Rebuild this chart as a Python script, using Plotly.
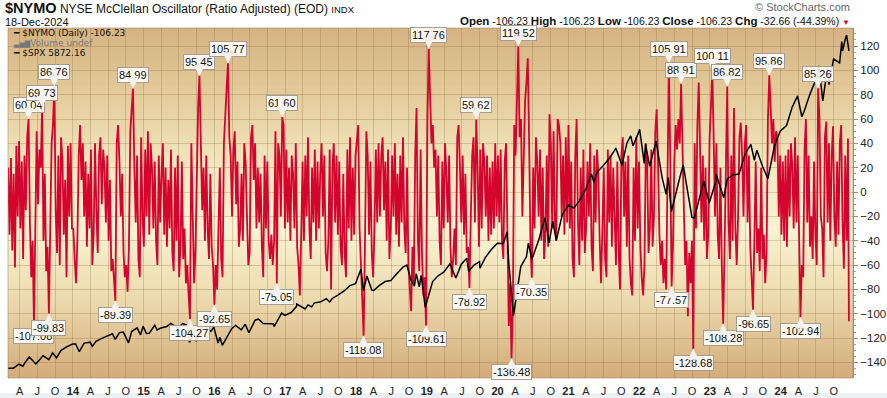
import plotly.graph_objects as go
import pandas as pd

# ---------------- DATA ----------------
# $NYMO weekly readings, one list per year (first Friday of each year onward)
nymo_2013 = [20, -35, 28, -48, 15, -62, 38, -20, 42, -30,
             25, -55, 30, -15, 45, 60.04, -25, -70, -40, -107.08,
             -30, 50, -10, 35, 20, 69.73, -40, 15, -65, -45,
             -99.83, -20, 40, 55, 86.76, -15, -50, 30, -60, 45,
             25, -35, 10, -70, 38, -20, 40, -30]
nymo_2014 = [-30, -55, -75, -40, 30, 55, 10, 40, -20, 25,
             -45, 15, -30, 35, -60, -35, 40, -15, -50, 30,
             45, -10, 35, 20, -25, 30, -40, 10, -65, -55,
             -75, -89.39, 40, 55, 25, -20, 15, -50, -70, -60,
             -82, -45, 50, 65, 84.99, 20, -25, 30, -55, -70,
             45, -20]
nymo_2015 = [-45, 35, -20, 50, -35, 40, 20, -30, 25, -40,
             -60, 30, -25, 15, 40, -35, 20, -45, 10, -30,
             35, -50, -65, 20, -40, 30, -70, -45, 25, -55,
             -30, -75, -60, -85, -104.27, 40, -20, -75, -50, 30,
             70, 95.45, 35, -15, 20, -40, 30, -30, -55, 15,
             -45, -60]
nymo_2016 = [-92.65, -60, -80, -40, 20, -55, -70, 40, 70, 85,
             105.77, 45, 30, -20, 35, 50, -10, 25, -45, -30,
             15, -40, 40, 25, -20, -60, -50, 45, 55, 10,
             40, -30, 20, -25, 15, -45, -70, 30, -30, 25,
             -40, -55, -35, -60, -40, 50, -75.05, 40, 30, -20,
             61.60, 55, -30]
nymo_2017 = [35, -25, 20, -40, 30, 15, -30, 40, -45, -60,
             -85, -35, 25, -40, 30, -20, 45, -30, -55, 20,
             -25, 35, -40, 25, -30, 15, 40, -20, 30, -50,
             -65, -40, 35, -80, 20, 40, -25, 30, -35, 25,
             -45, -60, 15, -50, -70, 35, -30, 45, -40, 20,
             -35, 30]
nymo_2018 = [40, 55, -30, -60, -85, -118.08, -40, 50, 30, -35,
             25, -50, -70, -30, 35, -25, 40, -20, 30, 45,
             -15, 25, -40, 35, -55, -30, 30, -20, 40, -35,
             15, -45, 30, -25, 45, -30, -50, 20, -60, -80,
             -98, -45, -75, 30, 69, -40, -65, 35, -50, -85,
             -70, -109.61]
nymo_2019 = [60, 117.76, 85, 40, 55, 20, 35, -20, 30, -40,
             -60, 25, -30, 40, 15, -25, 30, -45, -70, -55,
             -30, -60, 45, 55, 20, -25, 30, -35, 15, -50,
             -45, -78.92, -20, 30, 45, -25, 59.62, 20, -45, 35,
             -30, 40, 25, -20, 30, -40, 20, -35, 25, -30,
             40, -20]
nymo_2020 = [30, -25, 35, -40, -55, 25, 40, -20, -110, -75,
             -136.48, -95, 55, 30, 85, 119.52, 45, 60, -20, 30,
             75, 90, 110, 40, -45, -70.35, 20, -30, 45, 25,
             -20, 35, -40, 20, -55, -35, 30, -45, 64, 40,
             -30, 50, -25, -40, 60, 55, 40, -20, 30, -35,
             45, -25]
nymo_2021 = [55, -30, 25, -55, -70, 30, 60, -25, -60, 20,
             -40, 35, -50, -30, 25, -20, 40, -45, -65, 30,
             -25, 35, 15, -40, -75, -30, 20, -55, -70, 35,
             -25, 30, -45, 20, -35, -60, 25, -50, -80, 30,
             45, -20, 25, -45, 30, -55, -75, -85, 20, -40,
             45, -30, 25]
nymo_2022 = [-45, -70, -85, -60, 40, 25, -50, -30, 35, -45,
             -20, 50, 68, 25, -35, -60, -40, -75, -55, -80,
             40, 105.91, 30, -77.57, -45, 25, 55, 35, 60, 40,
             88.91, 30, -25, -60, -40, -102, -50, -75, -40, -128.68,
             40, -30, 55, 90, 35, -25, 30, -40, 20, -55,
             -35, 45]
nymo_2023 = [70, 100.11, 45, -20, 40, -35, -55, 20, -60, -108.28,
             -50, 40, 86.82, -25, -55, 30, -40, 69, -30, -60,
             -20, 45, 57, 30, -20, 40, 55, -25, 30, -45,
             -71, -96.65, -40, 25, -50, -30, -65, 20, -55, -35,
             -75, -50, 60, 95.86, 70, 40, 60, 25, 50, 45,
             -20, 30]
nymo_2024 = [-35, 25, -40, 30, -45, 35, -20, 40, 20, -30,
             45, -25, 30, -50, -102.94, -60, -70, 35, 60, -25,
             30, -45, -20, -55, 25, -35, -60, 85.26, 60, -20,
             -30, -70, 45, 58, -25, 40, -40, 30, 54, -20,
             -45, 25, -35, 40, 55, -25, -63, 30, -40, 44,
             -106.23]
year_starts = ["2013-02-01", "2014-01-03", "2015-01-02", "2016-01-01", "2017-01-06",
               "2018-01-05", "2019-01-04", "2020-01-03", "2021-01-01", "2022-01-07",
               "2023-01-06", "2024-01-05"]
last_date = "2024-12-18"

peak_labels = [60.04, 69.73, 86.76, 84.99, 95.45, 105.77, 61.60, 117.76, 59.62,
               119.52, 105.91, 88.91, 100.11, 86.82, 95.86, 85.26]
trough_labels = [-107.08, -99.83, -89.39, -104.27, -92.65, -75.05, -118.08, -109.61,
                 -78.92, -136.48, -70.35, -77.57, -128.68, -108.28, -96.65, -102.94]

# S&P 500 overlay
spx_dates = [
    "2013-02-01", "2013-02-28", "2013-03-28", "2013-04-18", "2013-04-30", "2013-05-21", "2013-06-24",
    "2013-07-31", "2013-08-30", "2013-09-18", "2013-10-08", "2013-10-31", "2013-11-29", "2013-12-31",
    "2014-01-15", "2014-02-03", "2014-02-28", "2014-03-31", "2014-04-11", "2014-04-30", "2014-05-30",
    "2014-06-30", "2014-07-24", "2014-08-07", "2014-08-29", "2014-09-18", "2014-10-15", "2014-10-31",
    "2014-11-28", "2014-12-16", "2014-12-29",
    "2015-01-15", "2015-01-30", "2015-02-27", "2015-03-11", "2015-03-31", "2015-04-30", "2015-05-21",
    "2015-06-30", "2015-07-20", "2015-08-17", "2015-08-25", "2015-09-16", "2015-09-29", "2015-10-30",
    "2015-11-03", "2015-12-14", "2015-12-29",
    "2016-01-20", "2016-01-29", "2016-02-11", "2016-03-31", "2016-04-20", "2016-05-19", "2016-06-08",
    "2016-06-27", "2016-07-29", "2016-08-15", "2016-09-09", "2016-10-31", "2016-11-04", "2016-11-30",
    "2016-12-13", "2016-12-30",
    "2017-01-31", "2017-02-28", "2017-03-01", "2017-04-13", "2017-04-28", "2017-05-17", "2017-05-31",
    "2017-06-30", "2017-07-31", "2017-08-18", "2017-08-31", "2017-09-29", "2017-10-31", "2017-11-30",
    "2017-12-29",
    "2018-01-26", "2018-02-08", "2018-02-26", "2018-03-23", "2018-04-02", "2018-04-30", "2018-05-31",
    "2018-06-29", "2018-07-31", "2018-08-31", "2018-09-20", "2018-10-11", "2018-10-29", "2018-11-07",
    "2018-11-23", "2018-12-03", "2018-12-24",
    "2019-01-31", "2019-02-28", "2019-03-29", "2019-04-30", "2019-05-31", "2019-06-28", "2019-07-26",
    "2019-08-05", "2019-08-30", "2019-09-30", "2019-10-02", "2019-10-31", "2019-11-29", "2019-12-31",
    "2020-01-31", "2020-02-19", "2020-02-28", "2020-03-23", "2020-04-30", "2020-05-29", "2020-06-08",
    "2020-06-26", "2020-07-31", "2020-09-02", "2020-09-23", "2020-10-12", "2020-10-30", "2020-11-30",
    "2020-12-31",
    "2021-01-29", "2021-02-26", "2021-03-31", "2021-04-30", "2021-05-12", "2021-05-28", "2021-06-30",
    "2021-07-30", "2021-08-31", "2021-09-02", "2021-10-04", "2021-10-29", "2021-11-18", "2021-11-30",
    "2021-12-31",
    "2022-01-03", "2022-01-27", "2022-02-02", "2022-02-24", "2022-03-29", "2022-04-29", "2022-05-20",
    "2022-05-31", "2022-06-16", "2022-07-29", "2022-08-16", "2022-09-30", "2022-10-12", "2022-11-30",
    "2022-12-01", "2022-12-28",
    "2023-01-31", "2023-02-02", "2023-03-13", "2023-03-31", "2023-04-28", "2023-05-31", "2023-06-30",
    "2023-07-31", "2023-08-18", "2023-08-31", "2023-09-29", "2023-10-27", "2023-11-30", "2023-12-29",
    "2024-01-31", "2024-02-29", "2024-03-28", "2024-04-19", "2024-04-30", "2024-05-31", "2024-06-28",
    "2024-07-16", "2024-08-05", "2024-08-30", "2024-09-06", "2024-09-30", "2024-10-31", "2024-11-11",
    "2024-11-15", "2024-11-29", "2024-12-06", "2024-12-18"]
spx_values = [
    1513, 1515, 1569, 1541, 1597, 1669, 1573,
    1686, 1633, 1725, 1656, 1757, 1806, 1848,
    1848, 1741, 1859, 1872, 1815, 1884, 1924,
    1960, 1988, 1910, 2003, 2011, 1862, 2018,
    2068, 1972, 2090,
    1992, 1995, 2105, 2040, 2068, 2086, 2131,
    2063, 2128, 2102, 1867, 1996, 1884, 2079,
    2109, 2021, 2078,
    1859, 1940, 1829, 2060, 2102, 2040, 2119,
    2001, 2174, 2190, 2128, 2126, 2085, 2199,
    2271, 2239,
    2279, 2364, 2396, 2329, 2384, 2357, 2412,
    2423, 2470, 2425, 2472, 2519, 2575, 2648,
    2674,
    2873, 2581, 2780, 2588, 2582, 2648, 2705,
    2718, 2816, 2902, 2930, 2728, 2641, 2814,
    2633, 2790, 2351,
    2704, 2784, 2834, 2946, 2752, 2942, 3026,
    2844, 2926, 2977, 2887, 3038, 3141, 3231,
    3226, 3386, 2954, 2237, 2912, 3044, 3232,
    3009, 3271, 3580, 3237, 3534, 3270, 3622,
    3756,
    3714, 3811, 3973, 4181, 4063, 4204, 4298,
    4395, 4523, 4537, 4300, 4605, 4705, 4567,
    4766,
    4796, 4327, 4589, 4288, 4632, 4132, 3901,
    4132, 3667, 4130, 4305, 3586, 3577, 4080,
    4076, 3783,
    4077, 4179, 3855, 4109, 4169, 4180, 4450,
    4589, 4370, 4508, 4288, 4117, 4568, 4770,
    4846, 5096, 5254, 4967, 5036, 5278, 5460,
    5667, 5186, 5648, 5408, 5762, 5705, 6001,
    5870, 6032, 6090, 5872]

month_letters = ["A", "J", "O"]
tick_years = list(range(2013, 2025))

# ---------------- BUILD SERIES ----------------
yearly = [nymo_2013, nymo_2014, nymo_2015, nymo_2016, nymo_2017, nymo_2018,
          nymo_2019, nymo_2020, nymo_2021, nymo_2022, nymo_2023, nymo_2024]
nymo_dates, nymo_vals = [], []
for start, vals in zip(year_starts, yearly):
    nymo_dates.extend(pd.date_range(start, periods=len(vals), freq="7D"))
    nymo_vals.extend(vals)
nymo_dates[-1] = pd.Timestamp(last_date)

tickvals, ticktext = [], []
for y in tick_years:
    if y > 2013:
        tickvals.append(f"{y}-01-01")
        ticktext.append(f"<b>{y % 100:02d}</b>")
    for m, lab in zip([4, 7, 10], month_letters):
        tickvals.append(f"{y}-{m:02d}-01")
        ticktext.append(lab)

RED = "rgb(212,4,44)"
fig = go.Figure()
fig.add_trace(go.Scatter(x=nymo_dates, y=nymo_vals, mode="lines",
                         line=dict(color=RED, width=1.8), hoverinfo="skip"))
fig.add_trace(go.Scatter(x=pd.to_datetime(spx_dates), y=spx_values, mode="lines", yaxis="y2",
                         line=dict(color="black", width=1.5), hoverinfo="skip"))

# ---------------- BACKGROUND GRADIENT ----------------
stops = [(0.0, (213, 178, 130)), (0.2, (228, 204, 156)), (0.42, (244, 234, 195)),
         (0.58, (249, 243, 210)), (0.78, (236, 218, 174)), (1.0, (211, 172, 123))]


def grad(t):
    for (t0, c0), (t1, c1) in zip(stops[:-1], stops[1:]):
        if t0 <= t <= t1:
            f = (t - t0) / (t1 - t0)
            return "rgb(%d,%d,%d)" % tuple(round(a + (b - a) * f) for a, b in zip(c0, c1))
    return "rgb(%d,%d,%d)" % stops[-1][1]


shapes = []
nb = 100
for i in range(nb):
    t0, t1 = i / nb, (i + 1) / nb
    shapes.append(dict(type="rect", xref="paper", yref="paper", x0=0, x1=1,
                       y0=1 - t1, y1=min(1, 1 - t0 + 0.004), fillcolor=grad((t0 + t1) / 2),
                       line=dict(width=0), layer="below"))
shapes.append(dict(type="rect", xref="paper", yref="paper", x0=0, x1=1, y0=0, y1=1,
                   line=dict(color="rgba(150,120,90,0.5)", width=1), layer="above"))
shapes.append(dict(type="rect", xref="paper", yref="paper", x0=-0.02, x1=1.05, y0=-0.07, y1=-0.043,
                   fillcolor="#eef1f4", line=dict(width=0), layer="below"))

# ---------------- ANNOTATIONS ----------------
ann = []
box = dict(font=dict(family="Liberation Sans, Arial", size=11, color="#111"),
           bgcolor="rgba(255,255,255,0.88)", bordercolor="#a89c90", borderwidth=1, borderpad=1,
           showarrow=True, arrowhead=2, arrowsize=1.6, arrowwidth=1.4, arrowcolor="#f4f2ee", ax=0)
for v in peak_labels:
    i = nymo_vals.index(v)
    ann.append(dict(x=nymo_dates[i], y=v, xref="x", yref="y", text=f"{v:.2f}", ay=-14, **box))
for v in trough_labels:
    i = nymo_vals.index(v)
    ann.append(dict(x=nymo_dates[i], y=v, xref="x", yref="y", text=f"{v:.2f}", ay=14, **box))

hdr = "Liberation Sans, Arial"
ann.append(dict(xref="paper", yref="paper", x=-0.006, y=1.057, xanchor="left", yanchor="middle",
                showarrow=False, font=dict(family=hdr, size=12, color="#111"),
                text="<b><span style='font-size:14.5px'>$NYMO</span></b> NYSE McClellan Oscillator (Ratio Adjusted) (EOD) <span style='font-size:9.5px'>INDX</span>"))
ann.append(dict(xref="paper", yref="paper", x=-0.006, y=1.017, xanchor="left", yanchor="middle",
                showarrow=False, font=dict(family=hdr, size=11, color="#111"), text="18-Dec-2024"))
ann.append(dict(xref="paper", yref="paper", x=0.999, y=1.02, xanchor="right", yanchor="middle",
                showarrow=False, font=dict(family=hdr, size=10.5, color="#111"),
                text="<b><span style='font-size:11.5px'>Open</span></b> -106.23 <b><span style='font-size:11.5px'>High</span></b> -106.23 "
                     "<b><span style='font-size:11.5px'>Low</span></b> -106.23 <b><span style='font-size:11.5px'>Close</span></b> -106.23 "
                     "<b><span style='font-size:11.5px'>Chg</span></b> -32.66 (-44.39%) <span style='color:#c8102e;font-size:8px'>▼</span>"))
ann.append(dict(xref="paper", yref="paper", x=0.9988, y=1.0614, xanchor="right", yanchor="middle",
                showarrow=False, font=dict(family=hdr, size=11, color="#666"), text="© StockCharts.com"))

leg = "DejaVu Sans, Verdana"
ann.append(dict(xref="paper", yref="paper", x=0.004, y=0.9857, xanchor="left", yanchor="middle",
                showarrow=False, font=dict(family=leg, size=9, color="#111"),
                text="<b>━</b> $NYMO (Daily) -106.23"))
ann.append(dict(xref="paper", yref="paper", x=0.004, y=0.9571, xanchor="left", yanchor="middle",
                showarrow=False, font=dict(family=leg, size=9, color="#777"),
                text="<span style='font-size:7px'>▃▅▇</span>Volume undef"))
ann.append(dict(xref="paper", yref="paper", x=0.004, y=0.9286, xanchor="left", yanchor="middle",
                showarrow=False, font=dict(family=leg, size=9, color="#111"),
                text="<b>━</b> $SPX 5872.16"))

fig.update_layout(
    width=887, height=398,
    margin=dict(l=8, r=34, t=28, b=20, autoexpand=False),
    paper_bgcolor="white", plot_bgcolor="rgb(245,236,200)",
    showlegend=False, shapes=shapes, annotations=ann,
    xaxis=dict(type="date", range=["2013-01-31", "2025-01-08"], tickvals=tickvals, ticktext=ticktext,
               showgrid=True, gridcolor="rgba(140,100,55,0.28)", gridwidth=1, zeroline=False,
               ticks="outside", ticklen=3, tickcolor="rgba(0,0,0,0)", automargin=False,
               tickfont=dict(family="Liberation Sans, Arial", size=11, color="#222"),
               showline=False),
    yaxis=dict(side="right", range=[-152.8, 134.8], tickvals=list(range(-140, 121, 20)),
               showgrid=True, gridcolor="rgba(140,100,55,0.28)", gridwidth=1, zeroline=False,
               automargin=False,
               showline=True, linecolor="#a99282", linewidth=1, ticks="outside", ticklen=4,
               tickcolor="#9a8a80", tickfont=dict(family="Liberation Sans, Arial", size=11.5, color="#222"),
               minor=dict(dtick=5, ticks="outside", ticklen=2, tickcolor="#b49a8a", showgrid=False)),
    yaxis2=dict(overlaying="y", range=[1380, 6186], visible=False, showgrid=False, automargin=False),
)

fig.write_html("out.html", config={"displayModeBar": False, "staticPlot": True},
               post_script="document.body.style.margin='0';")
